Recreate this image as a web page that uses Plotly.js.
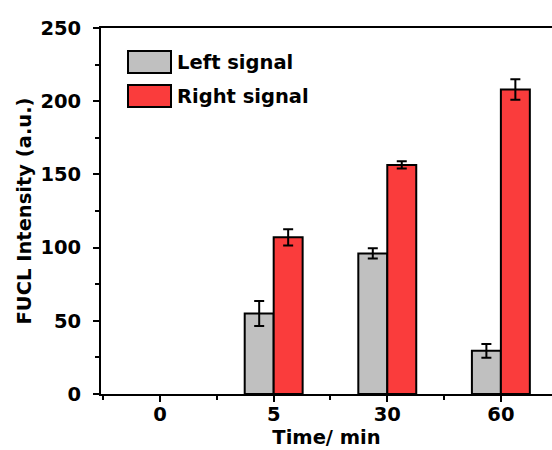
<!DOCTYPE html>
<html><head><meta charset="utf-8">
<script src="https://cdn.plot.ly/plotly-3.0.1.min.js"></script>
<style>html,body{margin:0;padding:0;background:#fff}#chart{width:552px;height:450px}</style>
</head><body><div id="chart"></div>
<script>
const categories = ["0", "5", "30", "60"];
const leftSignal = [null, 55, 96, 29.5];
const leftError = [0, 8.5, 3.5, 4.7];
const rightSignal = [null, 107, 156.5, 208];
const rightError = [0, 5.5, 2.5, 7];
const seriesNames = ["Left signal", "Right signal"];
const seriesColors = ["#c0c0c0", "#fa3c3c"];
const yTicks = [0, 50, 100, 150, 200, 250];

const xpos = categories.map((c, i) => i);
const W = 552, H = 450, L = 101, R = 0, T = 28, B = 56;
const font = {family: "DejaVu Sans, sans-serif", size: 19.5, color: "#000"};
const b = s => "<b>" + s + "</b>";

function mk(name, y, err, color) {
  return {
    type: "bar", name: name, x: xpos, y: y,
    marker: {color: color, line: {color: "#000", width: 2}},
    error_y: {type: "data", array: err, visible: true, color: "#000", thickness: 2, width: 5},
    showlegend: false, hoverinfo: "skip"
  };
}
const traces = [
  mk(seriesNames[0], leftSignal, leftError, seriesColors[0]),
  mk(seriesNames[1], rightSignal, rightError, seriesColors[1])
];

// legend drawn manually (paper coords)
const px = v => (v - L) / (W - L - R);
const py = v => (H - B - v) / (H - T - B);
const shapes = [], annotations = [];
[[51, 73], [85, 107]].forEach((yy, i) => {
  shapes.push({type: "rect", xref: "paper", yref: "paper",
    x0: px(128), x1: px(171), y0: py(yy[1]), y1: py(yy[0]),
    fillcolor: seriesColors[i], line: {color: "#000", width: 2}});
  annotations.push({xref: "paper", yref: "paper", x: px(175), y: py((yy[0] + yy[1]) / 2),
    xanchor: "left", yanchor: "middle", showarrow: false,
    text: b(seriesNames[i]), font: font});
});

const layout = {
  width: W, height: H,
  margin: {l: L, r: R, t: T, b: B},
  paper_bgcolor: "#fff", plot_bgcolor: "#fff",
  barmode: "group", bargap: 0.49, bargroupgap: 0,
  font: font,
  xaxis: {
    type: "linear", range: [-0.52, 3.45],
    tickmode: "array", tickvals: xpos, ticktext: categories.map(b),
    ticks: "outside", ticklen: 6, tickwidth: 2, tickcolor: "#000",
    minor: {tickmode: "linear", tick0: 0.5, dtick: 1, ticks: "outside", ticklen: 4, tickwidth: 2, tickcolor: "#000"},
    showline: true, linewidth: 2, linecolor: "#000", mirror: true,
    showgrid: false, zeroline: false,
    tickfont: font, ticklabelstandoff: -4,
    title: {text: b("Time/ min"), font: font, standoff: 0}
  },
  yaxis: {
    range: [0, 250],
    tickmode: "array", tickvals: yTicks, ticktext: yTicks.map(b),
    ticks: "outside", ticklen: 6, tickwidth: 2, tickcolor: "#000",
    minor: {tickmode: "linear", tick0: 25, dtick: 50, ticks: "outside", ticklen: 4, tickwidth: 2, tickcolor: "#000"},
    showline: true, linewidth: 2, linecolor: "#000",
    showgrid: false, zeroline: false,
    tickfont: font, ticklabelstandoff: 8,
    title: {text: b("FUCL Intensity (a.u.)"), font: font, standoff: 4}
  },
  shapes: shapes,
  annotations: annotations
};
Plotly.newPlot("chart", traces, layout, {displayModeBar: false, staticPlot: true});
</script></body></html>
